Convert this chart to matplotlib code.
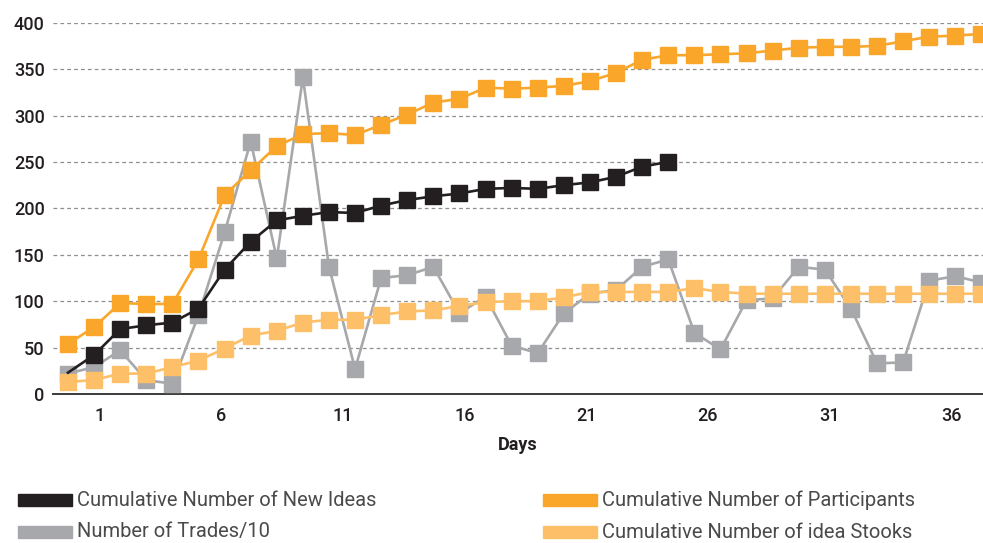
import matplotlib
matplotlib.use("Agg")
import matplotlib.pyplot as plt
from matplotlib.patches import Rectangle
import numpy as np

# data, one value per observation (36 observations)
new_ideas = [23, 42, 70, 74, 77, 92, 134, 164, 187, 192, 196, 195,
             203, 209, 213, 216, 221, 222, 221, 225, 228, 234, 245, 250]
participants = [54, 72, 98, 97, 97, 145, 214, 241, 267, 280, 281, 279,
                290, 301, 314, 318, 330, 329, 330, 332, 337, 346, 360, 365,
                365, 366, 367, 370, 373, 374, 374, 375, 380, 385, 386, 388]
trades_10 = [22, 29, 47, 15, 11, 85, 174, 272, 146, 341, 137, 27,
             125, 128, 137, 87, 105, 52, 44, 87, 108, 112, 137, 145,
             66, 48, 101, 103, 137, 134, 92, 33, 34, 122, 127, 120]
idea_stooks = [13, 15, 22, 22, 29, 36, 49, 63, 68, 77, 80, 80,
               85, 89, 90, 95, 99, 100, 100, 104, 110, 110, 110, 110,
               114, 110, 108, 108, 108, 108, 108, 108, 108, 108, 108, 108]
day_ticks = [1, 6, 11, 16, 21, 26, 31, 36]
y_ticks = [0, 50, 100, 150, 200, 250, 300, 350, 400]

series = [
    ("Number of Trades/10", trades_10, "#a7a8ab"),
    ("Cumulative Number of idea Stooks", idea_stooks, "#fdc068"),
    ("Cumulative Number of Participants", participants, "#f9a62b"),
    ("Cumulative Number of New Ideas", new_ideas, "#231f20"),
]

plt.rcParams['font.family'] = ['Roboto', 'DejaVu Sans']

fig = plt.figure(figsize=(9.83, 5.43), dpi=100)
ax = fig.add_axes([0.0539, 0.2744, 0.9461, 0.6838])

for name, vals, col in series:
    # first point of the ideas line has no marker in the original
    every = range(1, len(vals)) if vals is new_ideas else None
    ax.plot(np.arange(len(vals)), vals, color=col, lw=1.9, marker='s',
            ms=11.5, mec=col, clip_on=False, zorder=3, markevery=every)

ax.set_xlim(-0.575, 35.06)
ax.set_ylim(0, 400)
ax.set_yticks(y_ticks)
ax.set_xticks([])
ax.yaxis.grid(True, ls=(0, (3, 2.5)), color='#8f8f8f', lw=0.9)
ax.set_axisbelow(True)
for s in ['top', 'right', 'left']:
    ax.spines[s].set_visible(False)
ax.spines['bottom'].set_color('#3a3a3a')
ax.spines['bottom'].set_linewidth(1.4)
ax.tick_params(axis='y', length=0, pad=6, labelsize=13, labelcolor='#231f20')
for t in ax.get_yticklabels():
    t.set_fontweight('medium')

# second x scale for the day labels
ax2 = ax.twiny()
ax2.set_xlim(-0.93, 37.31)
ax2.xaxis.set_ticks_position('bottom')
ax2.xaxis.set_label_position('bottom')
ax2.set_xticks(day_ticks)
ax2.tick_params(axis='x', length=0, pad=9, labelsize=13, labelcolor='#231f20')
for t in ax2.get_xticklabels():
    t.set_fontweight('medium')
ax2.set_xlabel("Days", fontsize=13, fontweight='bold', labelpad=8, color='#231f20')
for s in ax2.spines.values():
    s.set_visible(False)

# legend drawn by hand at the bottom
legend_items = [
    ("Cumulative Number of New Ideas", "#231f20", 18, 500),
    ("Number of Trades/10", "#a7a8ab", 18, 532),
    ("Cumulative Number of Participants", "#f9a62b", 543, 500),
    ("Cumulative Number of idea Stooks", "#fdc068", 543, 532),
]
W, H = 983.0, 543.0
for label, col, px, py in legend_items:
    fig.patches.append(Rectangle((px / W, 1 - (py + 6) / H), 54 / W, 12 / H,
                                 transform=fig.transFigure, color=col))
    fig.text((px + 59) / W, 1 - py / H, label, fontsize=14.5, color='#4a4a4a',
             va='center', ha='left')

fig.savefig('out.png', dpi=100)
